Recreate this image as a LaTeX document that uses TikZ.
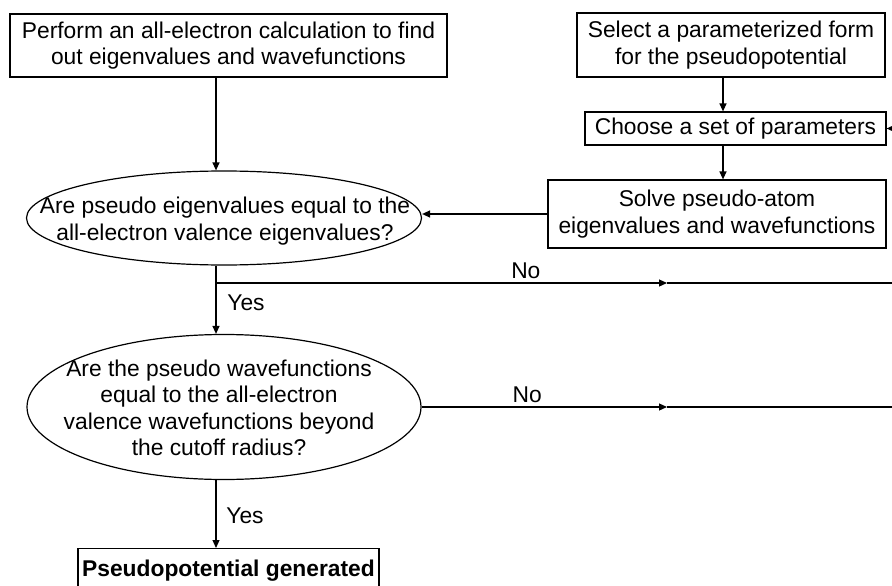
\documentclass[tikz,border=0pt]{standalone}
\usepackage{fontspec}
\setmainfont{Liberation Sans}
\usetikzlibrary{shapes.geometric,arrows.meta}

\begin{document}
\begin{tikzpicture}[x=1pt,y=-1pt,line width=1.2pt,
  every node/.style={font=\fontsize{22.8}{26.5}\selectfont},
  stepbox/.style={draw,align=center,inner sep=0pt},
  query/.style={draw,ellipse,inner sep=0pt},
  tip/.style={-{Triangle[length=8pt,width=7pt]}}]
\useasboundingbox (0,0) rectangle (892,586);

\coordinate (col)  at (216,0);
\coordinate (col2) at (723,0);

\node[stepbox,minimum width=437pt,minimum height=63pt] (allel)  at (228.5,45.5) {Perform an all-electron calculation to find\\out eigenvalues and wavefunctions};
\node[stepbox,minimum width=308pt,minimum height=64pt] (select) at (731,45)     {Select a parameterized form\\for the pseudopotential};
\node[stepbox,minimum width=301pt,minimum height=33pt] (choose) at (735.5,128.5) {Choose a set of parameters};
\node[stepbox,minimum width=338pt,minimum height=68pt] (solve)  at (717,214)    {Solve pseudo-atom\\eigenvalues and wavefunctions};

\node[query,minimum width=395pt,minimum height=94pt]  (q1) at (224,218) {};
\node[align=center] (q1text) at (225,221) {Are pseudo eigenvalues equal to the\\all-electron valence eigenvalues?};
\node[query,minimum width=394pt,minimum height=145pt] (q2) at (224,407) {};
\node[align=center] (q2text) at (219,408) {Are the pseudo wavefunctions\\equal to the all-electron\\valence wavefunctions beyond\\the cutoff radius?};

\node[stepbox,minimum width=301pt,minimum height=44pt,anchor=north,
  font=\fontsize{22.8}{26.5}\selectfont\bfseries] (done) at (228.5,548) {Pseudopotential generated};

\coordinate (fork1) at (216,283);
\coordinate (mid1)  at (667,283);
\coordinate (out1)  at (892,283);
\coordinate (mid2)  at (667,407);
\coordinate (out2)  at (892,407);
\coordinate (back)  at (892,128.5);

\draw[tip] (allel.south -| col) -- (q1.north -| col);
\draw[tip] (select.south -| col2) -- (choose.north -| col2);
\draw[tip] (choose.south -| col2) -- (solve.north -| col2);
\draw[tip] (back) -- (choose.east);
\draw[tip] (solve.west) -- (solve.west -| q1.east);

\draw[tip] (q1.south -| col) -- (q2.north -| col);
\draw[tip] (fork1) -- node[above,pos=0.687] (no1) {No} (mid1);
\draw (mid1) -- (out1);
\node (yes1) at (246,303) {Yes};

\draw[tip] (q2.east) -- node[above,pos=0.43] (no2) {No} (mid2);
\draw (mid2) -- (out2);
\draw[tip] (q2.south -| col) -- (done.north -| col);
\node (yes2) at (245,516) {Yes};
\end{tikzpicture}
\end{document}
